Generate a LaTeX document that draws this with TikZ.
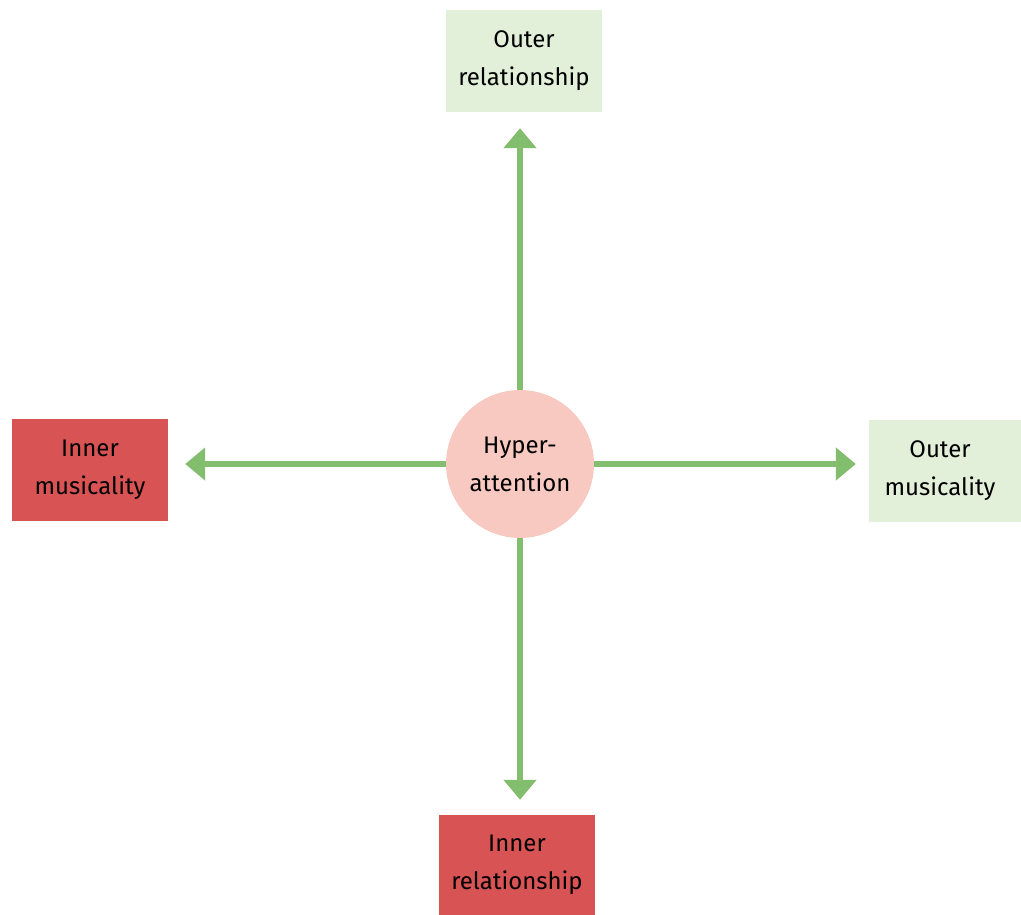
\documentclass[tikz,border=0pt]{standalone}
\usepackage{fontspec}
\setmainfont{Fira Sans}
\usetikzlibrary{arrows.meta}
\definecolor{redbox}{HTML}{D85353}
\definecolor{greenbox}{HTML}{E2EFD9}
\definecolor{pinkc}{HTML}{F8C9C1}
\definecolor{arrowg}{HTML}{82BE6E}
\begin{document}
\begin{tikzpicture}[x=1pt,y=-1pt,
  lbl/.style={font=\fontsize{24}{38}\selectfont, align=center, text=black},
  box/.style={lbl, inner sep=0pt, minimum width=156pt, minimum height=102pt},
  redb/.style={box, fill=redbox},
  greenb/.style={box, fill=greenbox},
  hub/.style={lbl, circle, fill=pinkc, minimum size=148pt, inner sep=0pt},
  conn/.style={draw=arrowg, line width=6pt, -{Triangle[width=32pt,length=20pt]}}
]
\useasboundingbox (0,0) rectangle (1021,915);
\node[hub] (c) at (520,464) {Hyper-\\attention};
\node[greenb] (top) at (524,61) {Outer\\relationship};
\node[redb] (left) at (90,470) {Inner\\musicality};
\node[greenb, minimum width=152pt] (right) at (945,471) {\hspace*{-10pt}Outer\\\hspace*{-10pt}musicality};
\node[redb, minimum height=100pt] (bot) at (517,865) {Inner\\relationship};
\draw[conn, shorten >=16pt] (c.north) -- (c.north |- top.south);
\draw[conn, shorten >=17pt] (c.west) -- (c.west -| left.east);
\draw[conn, shorten >=13pt] (c.east) -- (c.east -| right.west);
\draw[conn, shorten >=15pt] (c.south) -- (c.south |- bot.north);
\end{tikzpicture}
\end{document}
